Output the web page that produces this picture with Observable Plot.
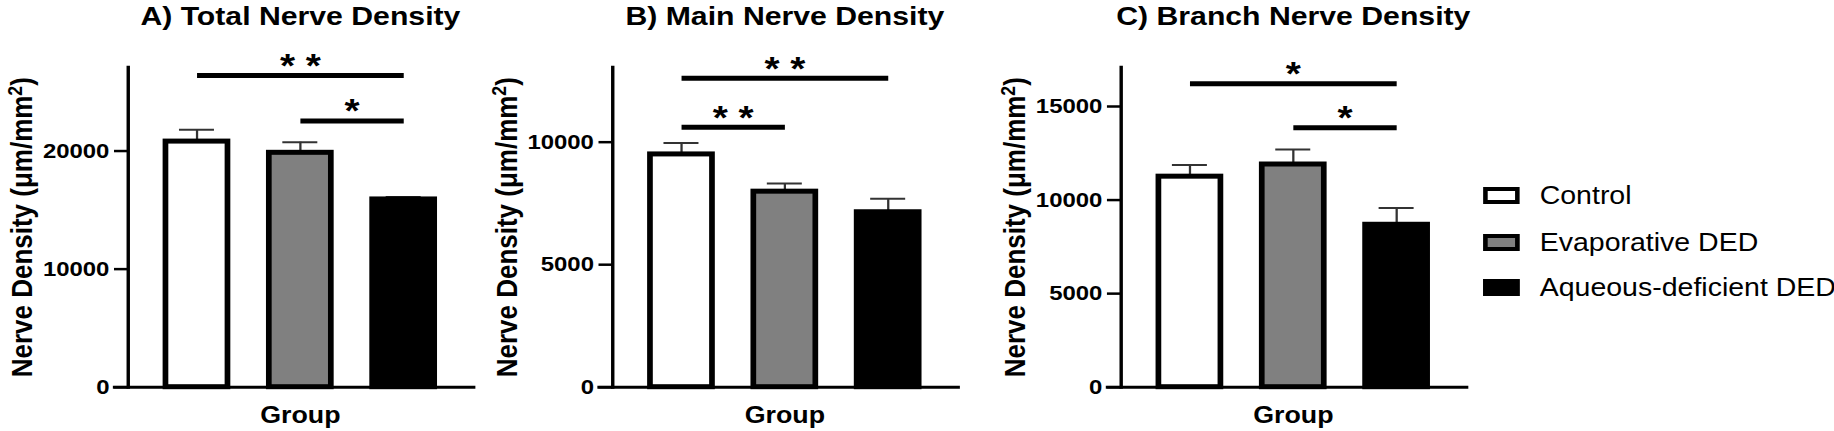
<!DOCTYPE html>
<html>
<head>
<meta charset="utf-8">
<script src="https://cdn.jsdelivr.net/npm/d3@7"></script>
<script src="https://cdn.jsdelivr.net/npm/@observablehq/plot@0.6"></script>
<style>
  html, body { margin: 0; padding: 0; background: #fff; overflow: hidden; }
  #wrap { position: absolute; left: 0; top: 0; width: 1609px; height: 431px;
          transform: scaleX(1.14); transform-origin: 0 0;
          font-family: "Liberation Sans", Arial, sans-serif; color: #000; }
  .panel { position: absolute; top: 0; }
  .lrow { position: absolute; display: flex; align-items: center; height: 30px; white-space: nowrap; }
  .sw { box-sizing: border-box; width: 32px; height: 17px; border: 4px solid #000; }
  .lt { margin-left: 18px; font-size: 25px; font-weight: normal; }
</style>
</head>
<body>
<div id="wrap"></div>
<script>
// ---------- data ----------
const groups = ["Control", "Evaporative DED", "Aqueous-deficient DED"];
const fills = ["#ffffff", "#808080", "#000000"];
const titles = ["A) Total Nerve Density", "B) Main Nerve Density", "C) Branch Nerve Density"];
const yLabel = "Nerve Density (\u03bcm/mm2)";
const xLabel = "Group";

const totalMean = [20800, 19850, 15900];
const totalSem = [1000, 900, 200];
const mainMean = [9500, 7980, 7140];
const mainSem = [470, 330, 550];
const branchMean = [11250, 11900, 8680];
const branchSem = [620, 800, 890];

const totalTicks = [0, 10000, 20000];
const mainTicks = [0, 5000, 10000];
const branchTicks = [0, 5000, 10000, 15000];

const totalMax = 27100;
const mainMax = 13060;
const branchMax = 17100;

const totalSig = [
  {from: "Control", to: "Aqueous-deficient DED", y: 26400, label: "* *"},
  {from: "Evaporative DED", to: "Aqueous-deficient DED", y: 22550, label: "*"}
];
const mainSig = [
  {from: "Control", to: "Aqueous-deficient DED", y: 12610, label: "* *"},
  {from: "Control", to: "Evaporative DED", y: 10610, label: "* *"}
];
const branchSig = [
  {from: "Control", to: "Aqueous-deficient DED", y: 16220, label: "*"},
  {from: "Evaporative DED", to: "Aqueous-deficient DED", y: 13870, label: "*"}
];

// ---------- layout ----------
const FONT = "'Liberation Sans', Arial, sans-serif";
const W = 420, H = 431;
const ML = 112, MR = 6, MT = 66.7, MB = 44.3;
const PI = 0.4, PO = 0.3656;
const STEP = (W - ML - MR) / (groups.length - PI + 2 * PO);
const BW = STEP * (1 - PI);
const CAP = 30.7;

const wrap = document.getElementById("wrap");

function panel(title, means, sems, ticks, ymax, sig, left) {
  const data = groups.map((g, k) => ({group: g, mean: means[k], top: means[k] + sems[k]}));
  const sigMarks = [];
  sig.forEach(s => {
    sigMarks.push(Plot.link([s], {x1: "from", x2: "to", y1: "y", y2: "y", stroke: "#000", strokeWidth: 5}));
    const off = (groups.indexOf(s.to) - groups.indexOf(s.from)) / 2 * STEP;
    sigMarks.push(Plot.text([s], {x: "from", y: "y", text: "label", dx: off, dy: 1.5,
      lineAnchor: "bottom", fontSize: 34, fontWeight: "bold", fill: "#000"}));
  });
  const p = Plot.plot({
    width: W, height: H,
    marginLeft: ML, marginRight: MR, marginTop: MT, marginBottom: MB,
    style: {fontFamily: FONT, fontSize: "21px", fontWeight: "bold", color: "#000", background: "transparent", overflow: "visible"},
    x: {domain: groups, paddingInner: PI, paddingOuter: PO, round: false, axis: null},
    y: {domain: [0, ymax]},
    color: {domain: groups, range: fills},
    marks: [
      Plot.ruleX(data, {x: "group", y1: "mean", y2: "top", stroke: "#333", strokeWidth: 2}),
      Plot.tickY(data, {x: "group", y: "top", stroke: "#333", strokeWidth: 2,
        insetLeft: (BW - CAP) / 2, insetRight: (BW - CAP) / 2}),
      Plot.barY(data, {x: "group", y: "mean", fill: "group", stroke: "#000", strokeWidth: 5}),
      Plot.frame({anchor: "left", stroke: "#000", strokeWidth: 3}),
      Plot.ruleY([0], {stroke: "#000", strokeWidth: 3, insetLeft: -13, insetRight: -3}),
      Plot.axisY(ticks, {tickSize: 12, tickPadding: 4.5, strokeWidth: 2.5, fontSize: 21,
        tickFormat: d => String(d), label: null}),
      Plot.text([yLabel], {text: d => d, frameAnchor: "left", rotate: -90, textAnchor: "middle",
        lineAnchor: "bottom", dx: -84.2, fontSize: 26, fontWeight: "bold", fill: "#000"}),
      Plot.text([xLabel], {text: d => d, frameAnchor: "bottom", lineAnchor: "bottom", dy: 35.3,
        fontSize: 23.5, fontWeight: "bold", fill: "#000"}),
      Plot.text([title], {text: d => d, frameAnchor: "top", lineAnchor: "bottom", dy: -41.7,
        fontSize: 26.5, fontWeight: "bold", fill: "#000"}),
      ...sigMarks
    ]
  });
  // superscript the unit exponent in the y label
  d3.select(p).selectAll("text").each(function () {
    if (this.textContent === yLabel) {
      const el = d3.select(this);
      el.text(null);
      el.append("tspan").text("Nerve Density (\u03bcm/mm");
      el.append("tspan").attr("baseline-shift", "super").attr("font-size", "0.68em").text("2");
      el.append("tspan").text(")");
    }
  });
  p.classList.add("panel");
  p.style.left = left + "px";
  wrap.appendChild(p);
}

panel(titles[0], totalMean, totalSem, totalTicks, totalMax, totalSig, 0);
panel(titles[1], mainMean, mainSem, mainTicks, mainMax, mainSig, 425.1);
panel(titles[2], branchMean, branchSem, branchTicks, branchMax, branchSig, 870.5);

// ---------- legend ----------
const rowCenters = [195.8, 242, 287];
groups.forEach((g, k) => {
  const row = document.createElement("div");
  row.className = "lrow";
  row.style.left = "1300.6px";
  row.style.top = (rowCenters[k] - 15) + "px";
  const sw = document.createElement("span");
  sw.className = "sw";
  sw.style.background = fills[k];
  const t = document.createElement("span");
  t.className = "lt";
  t.textContent = g;
  row.appendChild(sw);
  row.appendChild(t);
  wrap.appendChild(row);
});
</script>
</body>
</html>
